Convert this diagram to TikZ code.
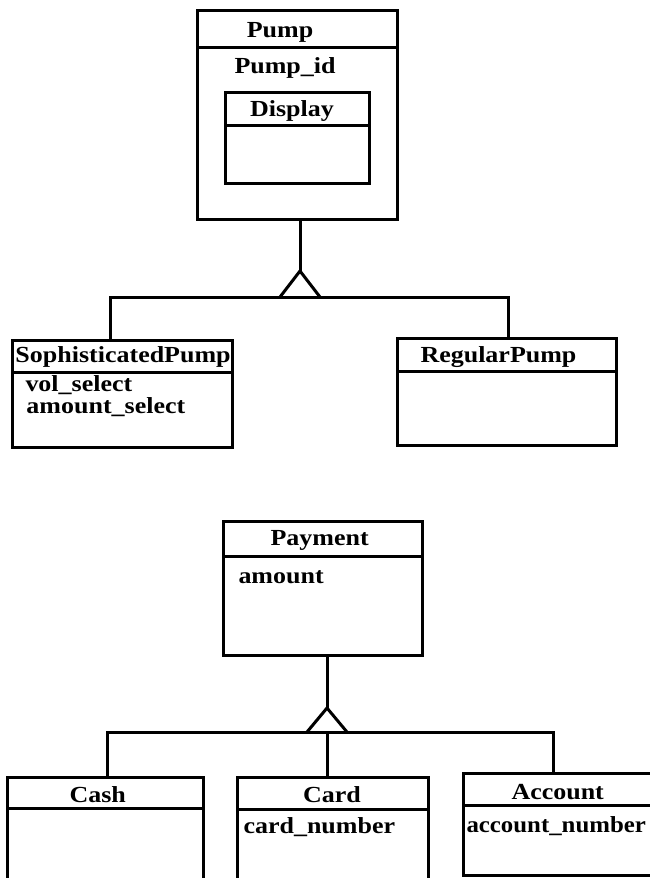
\documentclass[tikz,border=0pt]{standalone}
\usepackage{fontspec}
\setmainfont{Liberation Serif}
\newcommand{\wt}[1]{\scalebox{1.13}[1]{\bfseries #1}}
\begin{document}
\begin{tikzpicture}[x=1pt,y=-1pt,
  line width=3pt,
  classbox/.style={draw,line width=3pt},
  lbl/.style={inner sep=0pt,font=\fontsize{23}{23}\selectfont},
  lblw/.style={lbl,anchor=base west},
  lblc/.style={lbl,anchor=base},
  conn/.style={line width=3pt},
  gentri/.style={line width=3pt,line join=miter}
]
\useasboundingbox[fill=white] (0,0) rectangle (649,878);

% ---------- Pump hierarchy ----------
\draw[classbox] (197,10) rectangle (397,219);
\coordinate (pumpS) at (300,219);
\draw[classbox] (197,47) -- (397,47);
\node[lblc] (pumpT) at (280,37) {\wt{Pump}};
\node[lblw] (pumpid) at (233,73) {\wt{Pump\_id}};
\draw[classbox] (225,92) rectangle (369,183);
\draw[classbox] (225,125) -- (369,125);
\node[lblc] (dispT) at (292,116) {\wt{Display}};

\draw[classbox] (12,340) rectangle (232,447);
\draw[classbox] (12,372) -- (232,372);
\coordinate (sophN) at (110,340);
\node[lblw] (sophT) at (14,362) {\wt{SophisticatedPump}};
\node[lbl,anchor=base west,align=left,font=\fontsize{23}{22}\selectfont] (attrs) at (24,413)
  {\wt{vol\_select}\\[0pt]\hspace*{1pt}\wt{amount\_select}};

\draw[classbox] (397,338) rectangle (616,445);
\draw[classbox] (397,371) -- (616,371);
\coordinate (regN) at (508,338);
\node[lblw] (regT) at (419,362) {\wt{RegularPump}};

\coordinate (apex1) at (300,271);
\coordinate (bl1) at (280,297);
\coordinate (br1) at (320,297);
\coordinate (barL1) at (110,297);
\coordinate (barR1) at (508,297);
\draw[conn] (pumpS) -- (apex1);
\draw[gentri] (bl1) -- (apex1) -- (br1);
\draw[conn] (sophN) -- (barL1) -- (barR1) -- (regN);

% ---------- Payment hierarchy ----------
\draw[classbox] (223,521) rectangle (422,655);
\draw[classbox] (223,556) -- (422,556);
\coordinate (payS) at (327,655);
\node[lblw] (payT) at (269,545) {\wt{Payment}};
\node[lblw] (amount) at (237,583) {\wt{amount}};

\draw[classbox] (7,777) rectangle (203,895);
\draw[classbox] (7,808) -- (203,808);
\coordinate (cashN) at (107,777);
\node[lblw] (cashT) at (68,802) {\wt{Cash}};

\draw[classbox] (237,777) rectangle (428,895);
\draw[classbox] (237,809) -- (428,809);
\coordinate (cardN) at (327,777);
\node[lblc] (cardT) at (332,802) {\wt{Card}};
\node[lblw] (cardnum) at (242,833) {\wt{card\_number}};

\draw[classbox] (463,773) rectangle (665,875);
\draw[classbox] (463,805) -- (665,805);
\coordinate (accN) at (553,773);
\node[lblw] (accT) at (510,799) {\wt{Account}};
\node[lblw] (accnum) at (465,832) {\scalebox{1.08}[1]{\bfseries account\_number}};

\coordinate (apex2) at (327,708);
\coordinate (bl2) at (307,732);
\coordinate (br2) at (347,732);
\coordinate (barL2) at (107,732);
\coordinate (barR2) at (553,732);
\draw[conn] (payS) -- (apex2);
\draw[gentri] (bl2) -- (apex2) -- (br2);
\draw[conn] (cashN) -- (barL2) -- (barR2) -- (accN);
\draw[conn] (bl2 -| cardN) -- (cardN);
\end{tikzpicture}
\end{document}
